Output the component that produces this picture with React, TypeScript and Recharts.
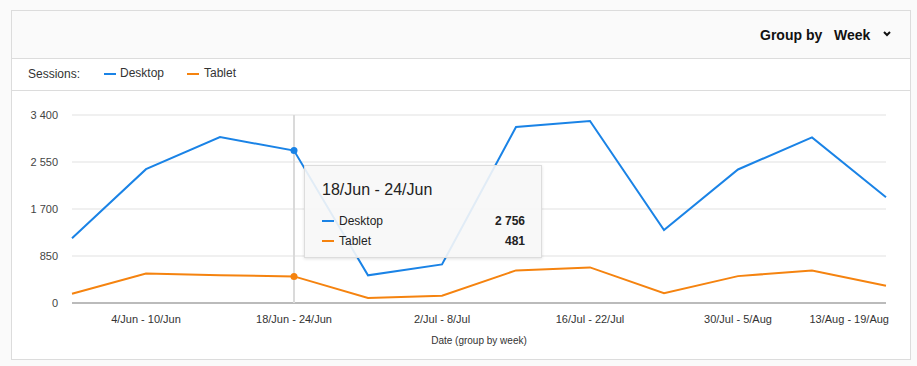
import { LineChart, Line, XAxis, YAxis, CartesianGrid, Tooltip } from 'recharts'

const weeks = [
  '28/May - 3/Jun', '4/Jun - 10/Jun', '11/Jun - 17/Jun', '18/Jun - 24/Jun',
  '25/Jun - 1/Jul', '2/Jul - 8/Jul', '9/Jul - 15/Jul', '16/Jul - 22/Jul',
  '23/Jul - 29/Jul', '30/Jul - 5/Aug', '6/Aug - 12/Aug', '13/Aug - 19/Aug',
]
const desktop = [1170, 2420, 3000, 2756, 500, 698, 3182, 3291, 1318, 2415, 2995, 1913]
const tablet = [168, 535, 504, 481, 90, 130, 590, 644, 178, 486, 589, 312]
const yTicks = [0, 850, 1700, 2550, 3400]

const BLUE = '#1a83e6'
const ORANGE = '#f5830f'
const FONT = 'Arial, "Liberation Sans", sans-serif'

const data = weeks.map((w, i) => ({ week: w, desktop: desktop[i], tablet: tablet[i] }))

const fmt = (v: number) => v.toString().replace(/\B(?=(\d{3})+(?!\d))/g, ' ')

function XTick({ x, y, payload }: any) {
  const last = payload.value === weeks[weeks.length - 1]
  return (
    <text x={last ? x + 3 : x} y={y + 12} textAnchor={last ? 'end' : 'middle'}
      fontSize={11} fill="#333" fontFamily={FONT}>
      {payload.value}
    </text>
  )
}

function TipBox({ active, payload, label }: any) {
  if (!active || !payload || !payload.length) return null
  return (
    <div style={{
      width: 238, height: 93, boxSizing: 'border-box', background: 'rgba(247,247,247,0.9)',
      border: '1px solid #ddd', boxShadow: '0 1px 3px rgba(0,0,0,0.12)', padding: '15px 16px 0 17px',
      fontFamily: FONT, color: '#222',
    }}>
      <div style={{ fontSize: 16, marginBottom: 12 }}>{label}</div>
      {payload.map((p: any) => (
        <div key={p.dataKey} style={{ display: 'flex', alignItems: 'center', fontSize: 12, height: 20 }}>
          <span style={{ width: 12, height: 2, background: p.color, marginRight: 5 }} />
          <span style={{ flex: 1 }}>{p.name}</span>
          <span style={{ fontWeight: 'bold' }}>{fmt(p.value)}</span>
        </div>
      ))}
    </div>
  )
}

export default function App() {
  return (
    <div style={{ position: 'absolute', left: 0, top: 0, width: 917, height: 366, background: '#fafafa', fontFamily: FONT }}>
      <div style={{
        position: 'absolute', left: 11, top: 10, width: 898, height: 348, border: '1px solid #dcdcdc',
        background: '#fff',
      }}>
        <div style={{
          height: 47, background: '#fafafa', borderBottom: '1px solid #dcdcdc', position: 'relative',
          fontWeight: 'bold', fontSize: 14, color: '#111',
        }}>
          <span style={{ position: 'absolute', left: 748, top: 16 }}>Group by</span>
          <span style={{ position: 'absolute', left: 822, top: 16 }}>Week</span>
          <svg style={{ position: 'absolute', left: 871, top: 20 }} width={8} height={6}>
            <polyline points="1,1 4,4 7,1" fill="none" stroke="#111" strokeWidth={2} />
          </svg>
        </div>
        <div style={{
          height: 31, borderBottom: '1px solid #dcdcdc', position: 'relative', fontSize: 12, color: '#333',
        }}>
          <span style={{ position: 'absolute', left: 16, top: 8 }}>Sessions:</span>
          <span style={{ position: 'absolute', left: 92, top: 14, width: 12, height: 2, background: BLUE }} />
          <span style={{ position: 'absolute', left: 108, top: 7 }}>Desktop</span>
          <span style={{ position: 'absolute', left: 175, top: 14, width: 12, height: 2, background: ORANGE }} />
          <span style={{ position: 'absolute', left: 192, top: 7 }}>Tablet</span>
        </div>
        <LineChart width={897} height={267} data={data} margin={{ top: 24, right: 23, left: 0, bottom: 10 }}>
          <CartesianGrid vertical={false} stroke="#f0f0f0" strokeWidth={2} />
          <XAxis dataKey="week" interval={0} tickLine={false} axisLine={{ stroke: '#bbb', strokeWidth: 2 }}
            height={45} tick={<XTick />} ticks={weeks.filter((_, i) => i % 2 === 1)}
            label={{ value: 'Date (group by week)', position: 'insideBottom', offset: 4, fontSize: 10, fill: '#333', fontFamily: FONT }} />
          <YAxis width={60} domain={[0, 3400]} ticks={yTicks} tickLine={false} axisLine={false}
            tickFormatter={fmt} tick={{ fontSize: 11, fill: '#444', fontFamily: FONT }} tickMargin={8} />
          <Tooltip defaultIndex={3} active content={<TipBox />} cursor={{ stroke: '#dadada', strokeWidth: 2 }}
            position={{ x: 292, y: 74 }} isAnimationActive={false} />
          <Line type="linear" dataKey="desktop" name="Desktop" stroke={BLUE} strokeWidth={2} dot={false}
            activeDot={{ r: 3.5, stroke: 'none', fill: BLUE }} isAnimationActive={false} />
          <Line type="linear" dataKey="tablet" name="Tablet" stroke={ORANGE} strokeWidth={2} dot={false}
            activeDot={{ r: 3.5, stroke: 'none', fill: ORANGE }} isAnimationActive={false} />
        </LineChart>
      </div>
    </div>
  )
}
